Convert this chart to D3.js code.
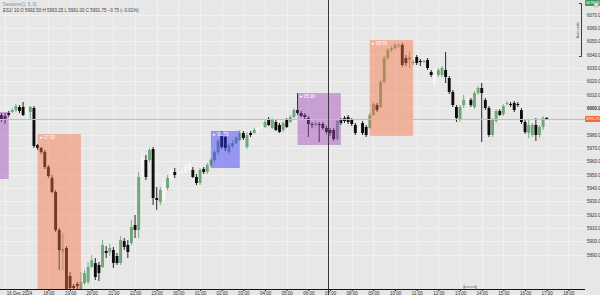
<!DOCTYPE html>
<html>
<head>
<meta charset="utf-8">
<script src="https://cdn.jsdelivr.net/npm/d3@7"></script>
<style>
  body { margin: 0; background: #e7e7e7; overflow: hidden; }
  svg { display: block; font-family: "Liberation Sans", Arial, sans-serif; }
</style>
</head>
<body>
<div id="chart"></div>
<script>
// 10 minute bars, first bar at startTime
const startTime = new Date("2024-12-16T15:50:00");
const barMinutes = 10;

const opens = [
  5994.75, 5994, 5996.25, 5997, 5998.5, 6000.75, 6000.75, 5997, 5997, 6000,
  5972.25, 5970, 5967, 5955.75, 5947.5, 5937, 5908.5, 5892, 5895, 5874,
  5866.5, 5868, 5863.5, 5868.75, 5869.5, 5880.75, 5883.75, 5882.25, 5880.75, 5892.75,
  5892, 5893.5, 5889, 5883.75, 5900.25, 5897.25, 5898.75, 5912.25, 5908.5, 5948.25,
  5961, 5961, 5969.25, 5932.5, 5929.5, 5931, 5940, 5946, 5952, 5950.5,
  5952, 5952, 5953.5, 5953.5, 5948.25, 5943.75, 5954.25, 5952, 5957.25, 5961,
  5967, 5979, 5978.25, 5967, 5971.5, 5973.75, 5976, 5981.25, 5970.75, 5981.25,
  5981.25, 5982, 5985, 5985.75, 5991, 5985, 5989.5, 5987.25, 5983.5, 5991,
  5989.5, 5993.25, 5998.5, 5996.25, 5994.75, 5992.5, 5988, 5987.25, 5988, 5988,
  5985, 5983.5, 5983.5, 5976.75, 5991, 5992.5, 5993.25, 5991, 5987.25, 5983.5,
  5988.75, 5985.75, 5985, 5994.75, 6002.25, 6000.75, 6019.5, 6037.5, 6043.5, 6045,
  6046.5, 6047.25, 6037.5, 6036, 6033.75, 6038.25, 6035.25, 6034.5, 6036, 6027,
  6017.25, 6024.75, 6024.75, 6028.5, 6022.5, 6012, 6000.75, 5991, 6002.25, 6006,
  6006, 6000.75, 6011.25, 6015, 6006, 6000, 5979.75, 5990.25, 5997.75, 5995.5,
  6003, 6003, 6003.75, 6003, 5998.5, 5989.5, 5981.25, 5979.75, 5987.25, 5979.75,
  5985.75, 5992.5
];
const highs = [
  5996.25, 5996.25, 5997.75, 6000, 6003, 6002.25, 6004.5, 6000.75, 6001.5, 6001.5,
  5973, 5970.75, 5968.5, 5957.25, 5949.75, 5938.5, 5910, 5906.25, 5896.5, 5877,
  5868, 5869.5, 5877, 5878.5, 5884.5, 5889.75, 5887.5, 5884.5, 5901, 5896.5,
  5898, 5895.75, 5891.25, 5904, 5902.5, 5901, 5916, 5919.75, 5952, 5968.5,
  5964.75, 5970, 5970.75, 5940.75, 5940.75, 5947.5, 5949.75, 5956.5, 5955, 5955,
  5955, 5958.75, 5959.5, 5955.75, 5950.5, 5955, 5955.75, 5958.75, 5962.5, 5968.5,
  5976.75, 5982.75, 5980.5, 5973.75, 5976, 5979, 5983.5, 5982.75, 5982, 5982.75,
  5985, 5986.5, 5988, 5991, 5993.25, 5992.5, 5991, 5988.75, 5990.25, 5992.5,
  5994.75, 6000, 6011.25, 5997.75, 5996.25, 5994, 5989.5, 5990.25, 5989.5, 5989.5,
  5986.5, 5985, 5985, 5991.75, 5992.5, 5994, 5994.75, 5992.5, 5988.75, 5988.75,
  5990.25, 5987.25, 5996.25, 6004.5, 6003.75, 6021, 6039, 6045, 6046.5, 6048.75,
  6048.75, 6048.75, 6039.75, 6042, 6036, 6039.75, 6036.75, 6036, 6037.5, 6028.5,
  6030, 6030, 6031.5, 6042, 6024, 6013.5, 6002.25, 6002.25, 6009.75, 6009.75,
  6007.5, 6012.75, 6016.5, 6018.75, 6007.5, 6001.5, 5992.5, 5999.25, 5999.25, 6003,
  6005.25, 6004.5, 6005.25, 6004.5, 6000, 5991, 5991, 5988.75, 5992.5, 5987.25,
  5994, 5993.25
];
const lows = [
  5989.5, 5988, 5993.25, 5996.25, 5997, 5996.25, 5994, 5991, 5991, 5970,
  5968.5, 5965.5, 5954.25, 5947.5, 5936.25, 5907, 5878.5, 5878.5, 5862, 5862,
  5862, 5863.5, 5862, 5867.25, 5868, 5880, 5871, 5870.25, 5880, 5887.5,
  5889, 5880, 5882.25, 5882.25, 5893.5, 5887.5, 5897.25, 5902.5, 5902.5, 5946,
  5946, 5959.5, 5927.25, 5923.5, 5927.25, 5928.75, 5938.5, 5944.5, 5947.5, 5949,
  5949.75, 5950.5, 5952, 5947.5, 5942.25, 5942.25, 5950.5, 5950.5, 5955.75, 5959.5,
  5964.75, 5969.25, 5967.75, 5965.5, 5970, 5973, 5975.25, 5976, 5969.25, 5978.25,
  5980.5, 5981.25, 5983.5, 5985, 5986.5, 5984.25, 5982.75, 5981.25, 5982, 5985,
  5988.75, 5992.5, 5994.75, 5993.25, 5991.75, 5978.25, 5985, 5985.75, 5974.5, 5983.5,
  5980.5, 5979, 5975.25, 5975.25, 5987.25, 5988.75, 5988, 5986.5, 5979.75, 5976,
  5979.75, 5978.25, 5984.25, 5994, 5997, 6000, 6018, 6036, 6042, 6043.5,
  6045, 6030.75, 6031.5, 6030, 6032.25, 6032.25, 6031.5, 6033.75, 6028.5, 6023.25,
  6015.75, 6023.25, 6023.25, 6018.75, 6010.5, 6000.75, 5989.5, 5989.5, 6000, 5997,
  6000.75, 5999.25, 6009.75, 5974.5, 5998.5, 5978.25, 5978.25, 5988.75, 5994, 5994,
  6001.5, 6000.75, 5997, 6000.75, 5988, 5980.5, 5977.5, 5978.25, 5975.25, 5977.5,
  5983.5, 5991
];
const closes = [
  5991.75, 5991, 5994.75, 5998.5, 6001.5, 5997.75, 5994.75, 5999.25, 6000.75, 5971.5,
  5970, 5967, 5955.75, 5949, 5937, 5908.5, 5893.5, 5894.25, 5863.5, 5865,
  5865, 5866.5, 5869.5, 5876.25, 5880.75, 5886, 5873.25, 5876.25, 5897.25, 5891.25,
  5895, 5883.75, 5883.75, 5901, 5895.75, 5892, 5910.75, 5908.5, 5948.25, 5962.5,
  5948.25, 5968.5, 5932.5, 5931, 5938.5, 5944.5, 5947.5, 5953.5, 5949.75, 5952,
  5952.75, 5956.5, 5958, 5948.25, 5943.75, 5953.5, 5952, 5957.25, 5961, 5967,
  5975.25, 5970.75, 5970, 5972.25, 5973.75, 5977.5, 5981.25, 5977.5, 5979.75, 5979.75,
  5983.5, 5985, 5986.5, 5989.5, 5987.25, 5991, 5983.5, 5982, 5988.75, 5985.75,
  5993.25, 5998.5, 5996.25, 5994, 5993.25, 5988, 5987.25, 5988.75, 5987.25, 5985,
  5982, 5981.25, 5976.75, 5990.25, 5988.75, 5990.25, 5989.5, 5988, 5981.25, 5985,
  5981.25, 5979.75, 5994.75, 6003, 5998.5, 6019.5, 6037.5, 6043.5, 6045, 6047.25,
  6047.25, 6032.25, 6033.75, 6038.25, 6034.5, 6033.75, 6034.5, 6035.25, 6030, 6024.75,
  6028.5, 6028.5, 6030, 6023.25, 6012, 6002.25, 5992.5, 6000.75, 6006, 6005.25,
  6002.25, 6011.25, 6015, 6011.25, 6000, 5979.75, 5991, 5997.75, 5994.75, 6001.5,
  6003.75, 6002.25, 5998.5, 6002.25, 5989.5, 5982, 5987.25, 5987.25, 5979.75, 5985.75,
  5992.5, 5991.75
];
// bars drawn in the pale colour
const lightBars = [7, 39, 45, 47, 49, 50, 51, 52, 71, 72, 99, 120, 129];

// session boxes
const boxStart = ["2024-12-16T15:00", "2024-12-16T17:30", "2024-12-17T01:30", "2024-12-17T05:30", "2024-12-17T08:50"];
const boxEnd = ["2024-12-16T16:10", "2024-12-16T19:30", "2024-12-17T02:50", "2024-12-17T07:30", "2024-12-17T10:50"];
const boxHigh = [5997, 5980.5, 5982.75, 6011.25, 6051];
const boxLow = [5946.75, 5850, 5955, 5972.25, 5979];
const boxKind = ["london", "newyork", "asia", "london", "newyork"];

const priceTicks = [5890, 5900, 5910, 5920, 5930, 5940, 5950, 5960, 5970, 5980,
  5990, 6000, 6010, 6020, 6030, 6040, 6050, 6060, 6070];
const boldPrice = 6000;
const crosshairTime = new Date("2024-12-17T06:53:00");
const topTagPrice = 6078.75;

// layout
const width = 600, height = 295;
const plotW = 585, plotH = 289;

const kindColor = {
  london: "rgba(160,70,185,0.45)",
  newyork: "rgba(245,110,65,0.45)",
  asia: "rgba(50,50,250,0.45)",
};
const upColor = "#6fa67a", downColor = "#0d0d0d", lightColor = "#f6f6f6";

const barTimes = opens.map((_, i) => d3.timeMinute.offset(startTime, i * barMinutes));
const bars = opens.map((o, i) => ({
  t: barTimes[i], o: o, h: highs[i], l: lows[i], c: closes[i],
  light: lightBars.includes(i),
}));
const last = bars[bars.length - 1];

const x = d3.scaleTime()
  .domain([d3.timeMinute.offset(startTime, -4), d3.timeMinute.offset(startTime, 1616)])
  .range([0, plotW]);
const y = d3.scaleLinear().domain([5864.25, 6081]).range([plotH, 0]);

const svg = d3.select("#chart").append("svg")
  .attr("width", width).attr("height", height);

svg.append("rect").attr("width", width).attr("height", height).attr("fill", "#e7e7e7");

svg.append("defs").append("clipPath").attr("id", "clip")
  .append("rect").attr("width", plotW).attr("height", plotH);

const timeTicks = x.ticks(d3.timeHour.every(1));
// the date label sits on the first full tick, the partial one at the edge gets none
const labelTicks = timeTicks.filter((d) => x(d) > 12);

// grid
const grid = svg.append("g").attr("stroke", "#f1f1f1").attr("stroke-width", 1);
grid.selectAll(".v").data(timeTicks).join("line")
  .attr("x1", (d) => Math.round(x(d)) + 0.5).attr("x2", (d) => Math.round(x(d)) + 0.5)
  .attr("y1", 0).attr("y2", plotH);
grid.selectAll(".h").data(priceTicks).join("line")
  .attr("x1", 0).attr("x2", plotW)
  .attr("y1", (d) => Math.round(y(d)) + 0.5).attr("y2", (d) => Math.round(y(d)) + 0.5);

// candles
const bw = (x(barTimes[1]) - x(barTimes[0])) * 0.8;
const barColor = (d) => d.light ? lightColor : (d.c >= d.o ? upColor : downColor);
const plot = svg.append("g").attr("clip-path", "url(#clip)");

plot.selectAll(".wick").data(bars).join("line")
  .attr("x1", (d) => x(d.t)).attr("x2", (d) => x(d.t))
  .attr("y1", (d) => y(d.h)).attr("y2", (d) => y(d.l))
  .attr("stroke", barColor).attr("stroke-width", 0.9);

plot.selectAll(".body").data(bars).join("rect")
  .attr("x", (d) => x(d.t) - bw / 2)
  .attr("y", (d) => y(Math.max(d.o, d.c)))
  .attr("width", bw)
  .attr("height", (d) => Math.max(1, Math.abs(y(d.o) - y(d.c))))
  .attr("fill", barColor);

// session boxes on top of the bars
const boxes = boxStart.map((s, i) => ({
  s: new Date(s), e: new Date(boxEnd[i]), hi: boxHigh[i], lo: boxLow[i], kind: boxKind[i],
}));
plot.selectAll(".box").data(boxes).join("rect")
  .attr("x", (d) => x(d.s)).attr("y", (d) => y(d.hi))
  .attr("width", (d) => x(d.e) - x(d.s))
  .attr("height", (d) => y(d.lo) - y(d.hi))
  .attr("fill", (d) => kindColor[d.kind]);
plot.selectAll(".boxlabel").data(boxes.filter((d) => x(d.s) > 0)).join("text")
  .attr("x", (d) => x(d.s) + 2).attr("y", (d) => y(d.hi) + 5)
  .attr("font-size", 4.5).attr("fill", "#fff")
  .text((d) => "\u25B8 " + d3.timeFormat("%H:%M")(d.s));

// last price line
svg.append("line")
  .attr("x1", 0).attr("x2", plotW)
  .attr("y1", Math.round(y(last.c)) + 0.5).attr("y2", Math.round(y(last.c)) + 0.5)
  .attr("stroke", "#9fd1b4").attr("stroke-width", 1);

// crosshair
svg.append("line")
  .attr("x1", Math.round(x(crosshairTime)) + 0.5).attr("x2", Math.round(x(crosshairTime)) + 0.5)
  .attr("y1", 0).attr("y2", height)
  .attr("stroke", "#3a3a3a").attr("stroke-width", 1);

// bottom axis
const fmtHour = d3.timeFormat("%H:%M");
const xAxis = d3.axisBottom(x).tickValues(labelTicks).tickSize(2)
  .tickFormat((d, i) => i === 0 ? d3.timeFormat("%-d %b %Y")(d) : fmtHour(d));
const gx = svg.append("g").attr("transform", "translate(0," + plotH + ")").call(xAxis);
gx.select(".domain").attr("d", "M0,0.5H" + plotW).attr("stroke", "#111");
gx.selectAll(".tick line").attr("stroke", "#111");
gx.selectAll(".tick text").attr("font-size", 4.5).attr("fill", "#333").attr("y", 3).attr("dy", "0.71em")
  .attr("font-family", "Liberation Sans, Arial, sans-serif");
gx.select(".tick text").attr("text-anchor", "end").attr("dx", 5);

// price tags
const tags = [
  {p: last.c, fill: "#ef6a3a"},
  {p: topTagPrice, fill: "#3f9a5e"},
];

// right axis, labels hidden under the tags
const yAxis = d3.axisRight(y).tickValues(priceTicks).tickSize(0).tickFormat(d3.format(".1f"));
const gy = svg.append("g").attr("transform", "translate(" + (plotW + 1) + ",0)").call(yAxis);
gy.select(".domain").remove();
gy.selectAll(".tick text").attr("font-size", 4.5).attr("fill", "#333").attr("x", 1)
  .attr("font-family", "Liberation Sans, Arial, sans-serif")
  .attr("font-weight", (d) => d === boldPrice ? "bold" : "normal");
gy.selectAll(".tick").filter((d) => tags.some((t) => Math.abs(y(t.p) - y(d)) < 6)).remove();

const tag = svg.selectAll(".tag").data(tags).join("g")
  .attr("transform", (d) => "translate(" + plotW + "," + Math.max(3, y(d.p)) + ")");
tag.append("rect").attr("x", 0).attr("y", -3).attr("width", 15).attr("height", 6)
  .attr("rx", 1).attr("fill", (d) => d.fill);
tag.append("text").attr("x", 1).attr("y", 1.4).attr("font-size", 3.8).attr("fill", "#fff")
  .text((d) => d3.format(".2f")(d.p));
svg.append("rect").attr("x", 594).attr("y", 2.5).attr("width", 4.5).attr("height", 4.5)
  .attr("fill", "#d8d8d8").attr("stroke", "#999").attr("stroke-width", 0.4);

// scale bracket on the right
svg.append("path").attr("d", "M579,3.5H581.5V56.5H579")
  .attr("fill", "none").attr("stroke", "#111").attr("stroke-width", 0.8);
svg.append("text").attr("transform", "translate(578.5,30) rotate(-90)")
  .attr("text-anchor", "middle").attr("font-size", 3.5).attr("fill", "#444").text("Auto scale");

// time range handle on the axis
svg.append("path").attr("d", "M464,285V289M464,287H476M476,285V289")
  .attr("fill", "none").attr("stroke", "#555").attr("stroke-width", 0.6);

// legend
const fmtP = d3.format(".2f");
const chg = last.c - bars[bars.length - 2].c;
svg.append("text").attr("x", 3).attr("y", 6).attr("font-size", 4.5).attr("fill", "#888")
  .text("Sessions(1, 5, 0)");
svg.append("text").attr("x", 3).attr("y", 12).attr("font-size", 4.5).attr("fill", "#444")
  .text("ES1! 10  O " + fmtP(last.o) + "  H " + fmtP(last.h) + "  L " + fmtP(last.l) +
    "  C " + fmtP(last.c) + "  " + fmtP(chg) + " (" + d3.format(".2%")(chg / last.c) + ")");
</script>
</body>
</html>
